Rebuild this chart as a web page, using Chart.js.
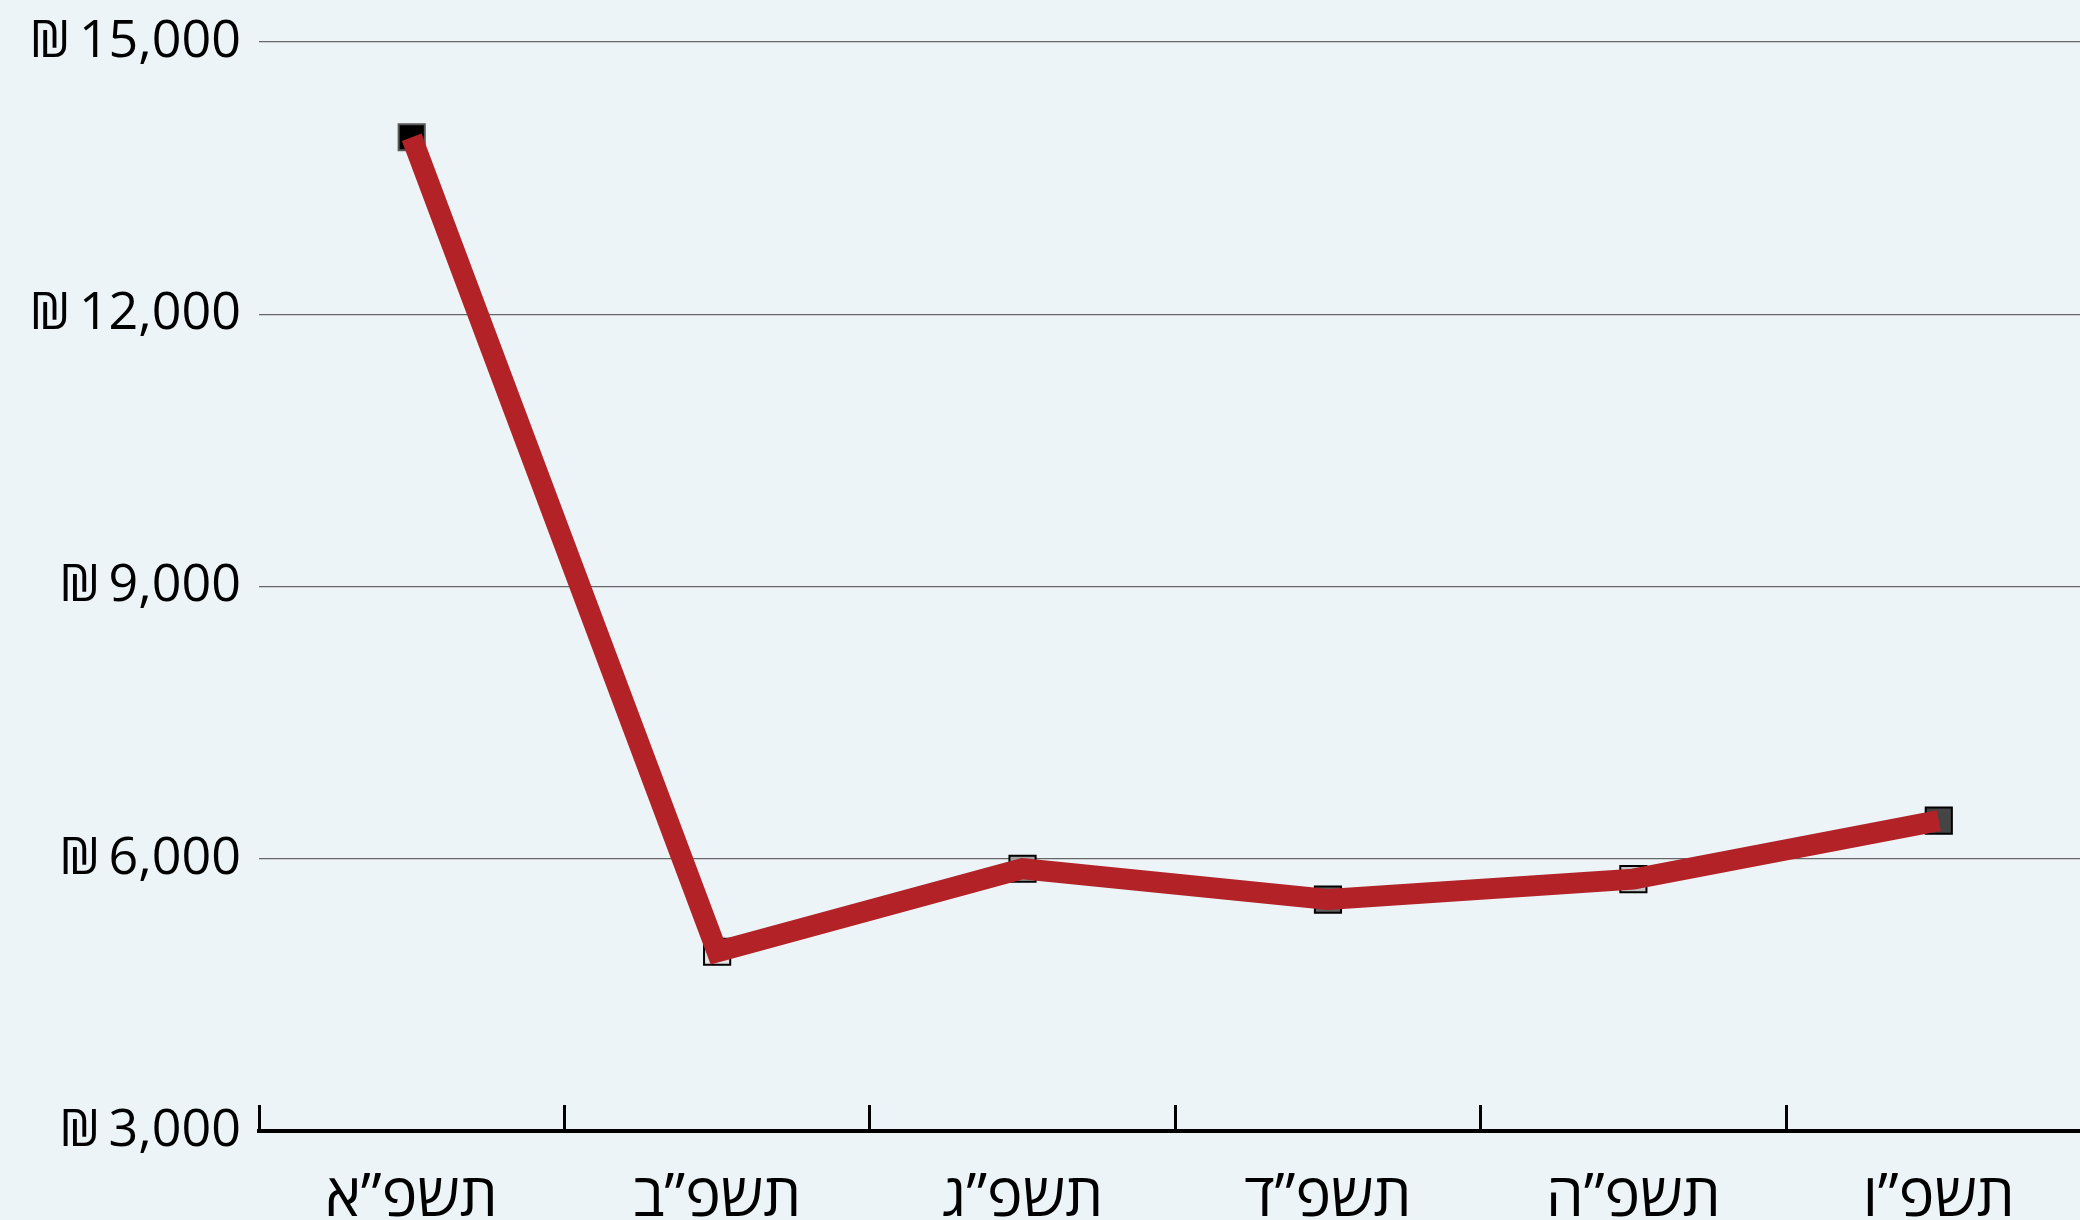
<!DOCTYPE html>
<html>
<head>
<meta charset="utf-8">
<script src="https://cdn.jsdelivr.net/npm/chart.js@4/dist/chart.umd.min.js"></script>
<style>
  html, body { margin: 0; padding: 0; background: #ecf4f8; overflow: hidden; }
  canvas { display: block; }
</style>
</head>
<body>
<canvas id="chart" width="2112" height="1220"></canvas>
<script>
const years = ['תשפ”א', 'תשפ”ב', 'תשפ”ג', 'תשפ”ד', 'תשפ”ה', 'תשפ”ו'];
const costs = [13950, 4975, 5890, 5550, 5775, 6420];
const yTicks = [3000, 6000, 9000, 12000, 15000];
const markerFills = ['#000000', '#e4e4e4', '#a0a0a0', '#606060', '#c4c4c4', '#454545'];
const markerBorders = ['#5a5a5a', '#000000', '#000000', '#000000', '#000000', '#000000'];

const fontFamily = '"Open Sans", "DejaVu Sans", sans-serif';

const ctx = document.getElementById('chart').getContext('2d');
new Chart(ctx, {
  type: 'line',
  data: {
    labels: years,
    datasets: [
      {
        data: costs,
        borderColor: '#b22227',
        borderWidth: 21,
        borderJoinStyle: 'miter',
        borderCapStyle: 'butt',
        pointRadius: 0,
        tension: 0,
        fill: false,
        order: 0,
      },
      {
        data: costs,
        showLine: false,
        pointStyle: 'rect',
        pointRadius: 18.5,
        pointBackgroundColor: markerFills,
        pointBorderColor: markerBorders,
        pointBorderWidth: 2,
        order: 1,
      },
    ],
  },
  options: {
    responsive: false,
    animation: false,
    devicePixelRatio: 1,
    layout: { padding: { top: 30, right: 8, left: 0, bottom: 0 } },
    plugins: {
      legend: { display: false },
      tooltip: { enabled: false },
    },
    scales: {
      x: {
        offset: true,
        grid: {
          offset: true,
          display: true,
          drawOnChartArea: false,
          drawTicks: true,
          tickLength: -26,
          tickColor: '#000',
          tickWidth: 3,
        },
        border: { display: true, color: '#000', width: 4 },
        ticks: {
          color: '#000',
          padding: 58,
          maxRotation: 0,
          font: { family: fontFamily, size: 60 },
        },
        afterFit: (scale) => { scale.height = 89; },
      },
      y: {
        min: 3000,
        max: 15000,
        afterBuildTicks: (scale) => { scale.ticks = yTicks.map(v => ({ value: v })); },
        grid: {
          color: '#666666',
          lineWidth: 1.3,
          drawTicks: false,
        },
        border: { display: false },
        ticks: {
          color: '#000',
          padding: 18,
          font: { family: fontFamily, size: 52, lineHeight: 0.92 },
          callback: (v) => '₪\u2009' + Number(v).toLocaleString('en-US'),
        },
        afterFit: (scale) => { scale.width = 259; },
      },
    },
  },
});
</script>
</body>
</html>
